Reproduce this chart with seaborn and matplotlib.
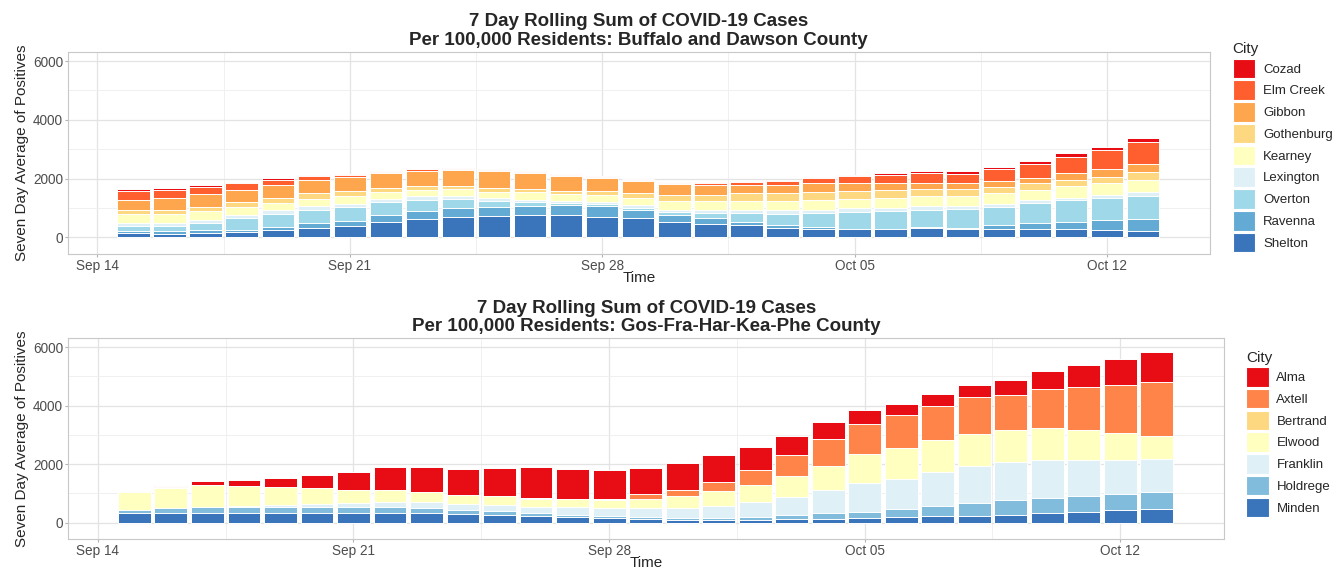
import numpy as np
import pandas as pd
import matplotlib
matplotlib.use('Agg')
import matplotlib.pyplot as plt
import matplotlib.dates as mdates
from matplotlib.patches import Patch
import seaborn as sns

# Datas (uma barra por dia)
dates = pd.date_range('2020-09-15', '2020-10-13')

# Buffalo e Dawson - valores por cidade (de baixo para cima)
shelton = [145, 123, 145, 190, 257, 313, 402, 514, 637, 704, 726, 748, 760, 704, 648,
           536, 469, 413, 335, 302, 279, 279, 313, 290, 302, 302, 279, 257, 235]
ravenna = [90, 90, 100, 67, 112, 168, 168, 235, 279, 302, 313, 313, 335, 369, 302,
           235, 179, 112, 78, 45, 22, 22, 34, 34, 112, 201, 257, 335, 391]
overton = [170, 190, 257, 391, 424, 469, 469, 447, 369, 302, 201, 134, 78, 56, 67,
           89, 190, 313, 402, 491, 581, 603, 603, 648, 626, 670, 726, 748, 793]
lexington = [100, 100, 90, 123, 134, 123, 112, 100, 112, 100, 100, 89, 67, 67, 78,
             89, 89, 89, 112, 112, 123, 112, 112, 89, 89, 89, 89, 112, 134]
kearney = [290, 290, 302, 268, 246, 246, 246, 235, 235, 246, 223, 246, 235, 246, 257,
           290, 313, 313, 313, 313, 302, 335, 335, 335, 380, 357, 402, 413, 402]
gothenburg = [135, 134, 145, 168, 179, 190, 179, 145, 134, 112, 134, 112, 112, 134, 156,
              190, 212, 268, 279, 268, 268, 268, 246, 246, 201, 223, 201, 201, 257]
gibbon = [355, 413, 447, 413, 447, 447, 469, 503, 503, 536, 570, 559, 503, 458, 424,
          391, 335, 290, 279, 313, 268, 235, 223, 201, 201, 179, 223, 268, 290]
elm_creek = [290, 280, 223, 223, 156, 145, 89, 56, 45, 34, 34, 34, 34, 22, 34,
             45, 67, 89, 112, 168, 235, 268, 313, 313, 413, 491, 570, 648, 737]
cozad = [67, 78, 78, 56, 56, 34, 34, 22, 22, 22, 22, 22, 22, 22, 22,
         34, 34, 45, 56, 56, 56, 78, 78, 112, 89, 101, 123, 112, 134]

# Gos-Fra-Har-Kea-Phe - valores por cidade (de baixo para cima)
minden = [310, 331, 331, 320, 309, 309, 309, 320, 309, 276, 265, 210, 177, 144, 111,
          88, 88, 99, 133, 133, 155, 188, 221, 232, 265, 320, 376, 420, 453]
holdrege = [120, 155, 188, 210, 210, 210, 221, 210, 177, 166, 133, 111, 88, 88, 66,
            66, 66, 99, 133, 188, 221, 287, 354, 431, 497, 519, 541, 553, 586]
franklin = [10, 22, 22, 33, 77, 122, 133, 177, 221, 199, 199, 221, 254, 254, 309,
            331, 420, 508, 619, 774, 961, 1006, 1160, 1271, 1315, 1304, 1238, 1182, 1149]
elwood = [590, 674, 740, 674, 619, 541, 464, 420, 331, 287, 298, 276, 276, 276, 331,
          420, 497, 575, 707, 851, 995, 1083, 1072, 1083, 1094, 1105, 1006, 906, 774]
bertrand = [45, 0, 0, 0, 0, 0, 0, 0, 15, 15, 15, 15, 15, 40, 0,
            0, 0, 0, 0, 0, 0, 0, 0, 0, 0, 0, 0, 0, 0]
axtell = [0, 30, 0, 0, 0, 0, 0, 0, 0, 0, 0, 0, 0, 0, 144,
          221, 320, 508, 707, 906, 1039, 1105, 1182, 1260, 1204, 1304, 1481, 1635, 1845]
alma = [10, 35, 133, 221, 298, 453, 608, 774, 862, 895, 961, 1072, 1028, 1006, 906,
        917, 906, 807, 663, 586, 475, 376, 409, 420, 497, 619, 751, 884, 1028]

cidades_1 = ['Shelton', 'Ravenna', 'Overton', 'Lexington', 'Kearney',
             'Gothenburg', 'Gibbon', 'Elm Creek', 'Cozad']
camadas_1 = [shelton, ravenna, overton, lexington, kearney, gothenburg, gibbon, elm_creek, cozad]
cores_1 = ['#3a74bb', '#63aad4', '#9fd8e9', '#dff1f7', '#ffffbf',
           '#fed880', '#fea64e', '#ff5f2e', '#e80c14']

cidades_2 = ['Minden', 'Holdrege', 'Franklin', 'Elwood', 'Bertrand', 'Axtell', 'Alma']
camadas_2 = [minden, holdrege, franklin, elwood, bertrand, axtell, alma]
cores_2 = ['#3a74bb', '#82bcdc', '#dff1f7', '#ffffbf', '#fed880', '#fe844a', '#e80c14']

sns.set_style('white')
plt.rcParams['font.family'] = ['Liberation Sans', 'DejaVu Sans']

x = mdates.date2num(dates)


# Função para desenhar um painel de barras empilhadas
def desenhar_painel(ax, camadas, cidades, cores, titulo):
    acumulado = np.cumsum(np.array(camadas, dtype=float), axis=0)
    for i in range(len(cidades) - 1, -1, -1):
        df = pd.DataFrame({'Time': x, 'Valor': acumulado[i]})
        sns.barplot(data=df, x='Time', y='Valor', color=cores[i], saturation=1,
                    width=0.9, native_scale=True, edgecolor='white', linewidth=0.7, ax=ax)

    maj = mdates.date2num(pd.to_datetime(['2020-09-14', '2020-09-21', '2020-09-28',
                                          '2020-10-05', '2020-10-12']))
    ax.set_xticks(maj)
    ax.set_xticklabels(['Sep 14', 'Sep 21', 'Sep 28', 'Oct 05', 'Oct 12'])
    ax.set_xticks(maj[:-1] + 3.5, minor=True)
    ax.set_yticks([0, 2000, 4000, 6000])
    ax.set_yticks([1000, 3000, 5000], minor=True)
    ax.set_xlim(maj[0] - 0.82, maj[0] + 30.85)
    ax.set_ylim(-565, 6310)

    ax.set_axisbelow(True)
    ax.grid(which='major', color='#e3e3e3', linewidth=0.9)
    ax.grid(which='minor', color='#eeeeee', linewidth=0.6)
    ax.tick_params(which='major', length=2.5, color='#b3b3b3', labelsize=9.8,
                   labelcolor='#4d4d4d', left=True, bottom=True, pad=1)
    ax.tick_params(which='minor', length=0)
    for s in ax.spines.values():
        s.set_color('#c8c8c8')
        s.set_linewidth(0.8)

    ax.set_xlabel('Time', fontsize=11, labelpad=-1.5)
    ax.set_ylabel('Seven Day Average of Positives', fontsize=11, labelpad=3)
    ax.set_title(titulo, fontsize=13.5, fontweight='bold',
                 linespacing=1.12, pad=5)


fig = plt.figure(figsize=(13.4, 5.71), dpi=100)
ax1 = fig.add_axes([0.0507, 0.555, 0.852, 0.354])
ax2 = fig.add_axes([0.0507, 0.056, 0.863, 0.352])

desenhar_painel(ax1, camadas_1, cidades_1, cores_1,
                '7 Day Rolling Sum of COVID-19 Cases\nPer 100,000 Residents: Buffalo and Dawson County')
desenhar_painel(ax2, camadas_2, cidades_2, cores_2,
                '7 Day Rolling Sum of COVID-19 Cases\nPer 100,000 Residents: Gos-Fra-Har-Kea-Phe County')

# Legendas (de cima para baixo)
for cidades, cores, bx, by in [(cidades_1, cores_1, 0.916, 0.935), (cidades_2, cores_2, 0.926, 0.395)]:
    handles = [Patch(facecolor=c, edgecolor='white', linewidth=0.8, label=n)
               for n, c in zip(cidades[::-1], cores[::-1])]
    leg = fig.legend(handles=handles, title='City', loc='upper left',
                     bbox_to_anchor=(bx, by), frameon=False,
                     fontsize=9.5, title_fontsize=11, handlelength=1.7, handleheight=1.9,
                     labelspacing=0.17, handletextpad=0.6, borderaxespad=0)
    leg._legend_box.align = 'left'

fig.savefig('out.png', dpi=100)
